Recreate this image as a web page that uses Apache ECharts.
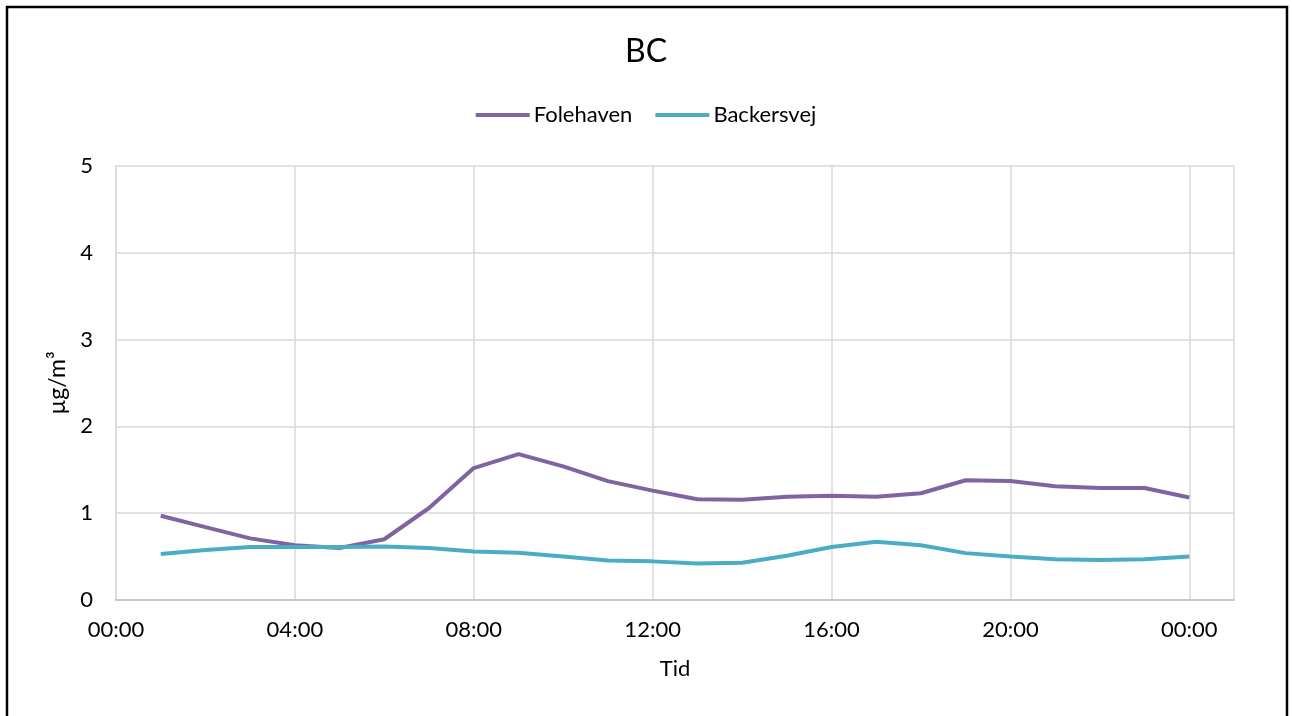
<!DOCTYPE html>
<html>
<head>
<meta charset="utf-8">
<script src="https://cdn.jsdelivr.net/npm/echarts@6/dist/echarts.min.js"></script>
<style>
html,body{margin:0;padding:0;background:#fff;}
#c{width:1292px;height:716px;}
</style>
</head>
<body>
<div id="c"></div>
<script>
const hours = [1,2,3,4,5,6,7,8,9,10,11,12,13,14,15,16,17,18,19,20,21,22,23,24];
const folehaven = [0.97,0.84,0.71,0.63,0.60,0.70,1.06,1.52,1.68,1.54,1.37,1.26,1.16,1.155,1.19,1.20,1.19,1.23,1.38,1.37,1.31,1.29,1.29,1.18];
const backersvej = [0.53,0.575,0.61,0.61,0.61,0.615,0.60,0.56,0.545,0.50,0.455,0.445,0.42,0.43,0.51,0.61,0.67,0.63,0.54,0.50,0.47,0.46,0.47,0.50];
const yTicks = [0,1,2,3,4,5];

const FONT = 'Lato';
const chart = echarts.init(document.getElementById('c'));
function pairs(vals){ return hours.map((h,i)=>[h, vals[i]]); }
chart.setOption({
  animation:false,
  backgroundColor:'#fff',
  textStyle:{fontFamily:FONT},
  graphic:[{type:'rect',shape:{x:7,y:7,width:1280,height:740},style:{fill:'none',stroke:'#000',lineWidth:2.5},silent:true}],
  title:{text:'BC',left:'center',top:31,textStyle:{fontFamily:FONT,fontSize:32,fontWeight:'normal',color:'#000'}},
  legend:{top:99,left:'center',itemGap:23,itemWidth:54,itemHeight:4,icon:'rect',
    textStyle:{fontFamily:FONT,fontSize:22,color:'#000',padding:[0,0,0,-1]},
    data:['Folehaven','Backersvej']},
  grid:{left:116,top:166,right:58,bottom:116,containLabel:false},
  xAxis:{type:'value',min:0,max:25,interval:4,
    name:'Tid',nameLocation:'middle',nameGap:58,nameTextStyle:{fontFamily:FONT,fontSize:22,color:'#000'},
    axisLine:{show:true,lineStyle:{color:'#bfbfbf',width:1.5}},
    axisTick:{show:false},
    axisLabel:{margin:19,fontFamily:FONT,fontSize:22,color:'#000',showMaxLabel:false,
      formatter:function(v){ if(v>24) return ''; const h=v%24; return (h<10?'0':'')+h+':00'; }},
    splitLine:{show:true,lineStyle:{color:'#d9d9d9',width:1.5}}},
  yAxis:{type:'value',min:yTicks[0],max:yTicks[yTicks.length-1],interval:1,
    name:'µg/m³',nameLocation:'middle',nameGap:34,nameRotate:90,nameTextStyle:{fontFamily:FONT,fontSize:23,color:'#000'},
    axisLine:{show:true,lineStyle:{color:'#d9d9d9',width:1.5}},
    axisTick:{show:false},
    axisLabel:{margin:23,fontFamily:FONT,fontSize:22,color:'#000'},
    splitLine:{show:true,lineStyle:{color:'#d9d9d9',width:1.5}}},
  series:[
    {name:'Folehaven',type:'line',data:pairs(folehaven),symbol:'none',lineStyle:{color:'#8064A2',width:4},itemStyle:{color:'#8064A2'}},
    {name:'Backersvej',type:'line',data:pairs(backersvej),symbol:'none',lineStyle:{color:'#4BACC6',width:4},itemStyle:{color:'#4BACC6'}}
  ]
});
</script>
</body>
</html>
